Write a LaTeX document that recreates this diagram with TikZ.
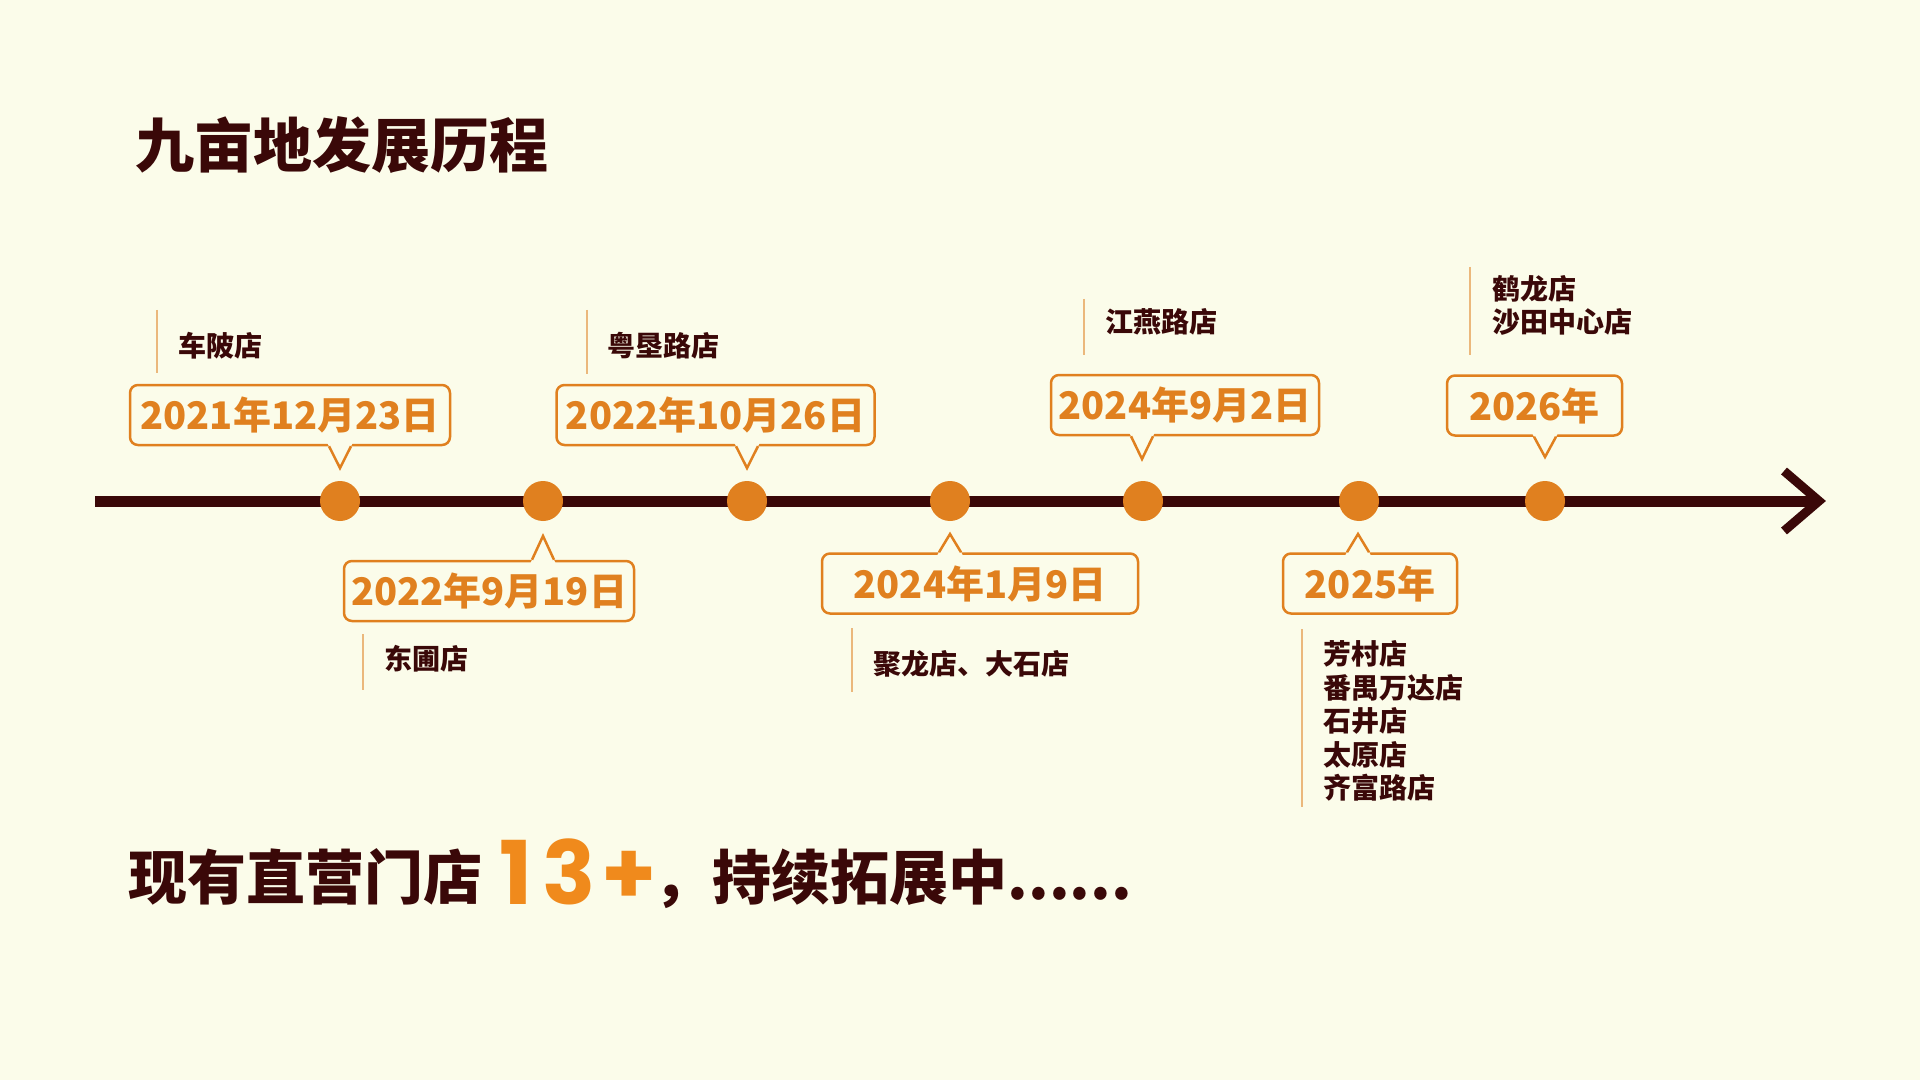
\documentclass[tikz,border=0pt]{standalone}
\usepackage{fontspec}
\newfontfamily\heavy{Noto Sans CJK SC Black}
\newfontfamily\cjk{Noto Sans CJK SC}
\newfontfamily\pop{Poppins}
\usetikzlibrary{calc}
\definecolor{bgc}{HTML}{FBFCEA}
\definecolor{darkc}{HTML}{3A0808}
\definecolor{orc}{HTML}{E0801F}
\definecolor{or13}{HTML}{F08A1C}
\definecolor{tanc}{HTML}{EBB87C}
\newcommand\calloutptr[2]{%
  \coordinate (bL) at ($(#1 |- #2)+(-11,0)$);
  \coordinate (bR) at ($(#1 |- #2)+(11,0)$);
  \fill[bgc] ($(#1)!1.25!(bL)$) -- (#1) -- ($(#1)!1.25!(bR)$) -- cycle;
  \draw[ptr] (bL) -- (#1) -- (bR);
}
\begin{document}
\begin{tikzpicture}[x=0.5pt,y=-0.5pt,
  datebox/.style={draw=orc, line width=1.25pt, rounded corners=4pt, fill=bgc, inner sep=0pt,
    text=orc, font=\cjk\bfseries\fontsize{19pt}{19pt}\selectfont, minimum height=30pt},
  ptr/.style={draw=orc, line width=1.25pt, line join=miter},
  dot/.style={circle, fill=orc, minimum size=20pt, inner sep=0pt},
  store/.style={anchor=west, inner sep=0pt, text=darkc, align=left,
    font=\heavy\fontsize{14pt}{16.75pt}\selectfont},
  stemline/.style={draw=tanc, line width=1pt},
  big/.style={anchor=base west, inner sep=0pt, text=darkc,
    font=\heavy\fontsize{29.5pt}{30pt}\selectfont},
]
\useasboundingbox (0,0) rectangle (1920,1080);
\fill[bgc] (0,0) rectangle (1920,1080);

% title
\node[anchor=west, inner sep=0pt, text=darkc, font=\heavy\fontsize{29.5pt}{30pt}\selectfont]
  (title) at (135,145) {九亩地发展历程};

% timeline
\coordinate (ls) at (95,501);
\coordinate (tip) at (1819,501);
\coordinate (aU) at (1784,471);
\coordinate (aD) at (1784,531);
\draw[darkc, line width=5.5pt] (ls) -- (tip);
\draw[darkc, line width=4.5pt, line join=miter] (aU) -- (tip) -- (aD);

% dots
\node[dot] (p1) at (340,501) {};
\node[dot] (p2) at (543,501) {};
\node[dot] (p3) at (747,501) {};
\node[dot] (p4) at (950,501) {};
\node[dot] (p5) at (1143,501) {};
\node[dot] (p6) at (1359,501) {};
\node[dot] (p7) at (1545,501) {};

% date boxes
\node[datebox, minimum width=160pt] (d1) at (290,415) {2021年12月23日};
\node[datebox, minimum width=159pt] (d2) at (715.5,415) {2022年10月26日};
\node[datebox, minimum width=134pt] (d3) at (1185,405) {2024年9月2日};
\node[datebox, minimum width=87.5pt] (d4) at (1534.5,405.5) {2026年};
\node[datebox, minimum width=145pt] (d5) at (489,591) {2022年9月19日};
\node[datebox, minimum width=158pt] (d6) at (980,583.5) {2024年1月9日};
\node[datebox, minimum width=87pt] (d7) at (1370,583.5) {2025年};

% pointer tips
\coordinate (t1) at ($(p1)+(0,-33)$);
\coordinate (t2) at ($(p3)+(0,-33)$);
\coordinate (t3) at ($(p5)+(-1,-42)$);
\coordinate (t4) at ($(p7)+(0,-44)$);
\coordinate (t5) at ($(p2)+(0,35)$);
\coordinate (t6) at ($(p4)+(0,33)$);
\coordinate (t7) at ($(p6)+(-1,33)$);
\calloutptr{t1}{d1.south}
\calloutptr{t2}{d2.south}
\calloutptr{t3}{d3.south}
\calloutptr{t4}{d4.south}
\calloutptr{t5}{d5.north}
\calloutptr{t6}{d6.north}
\calloutptr{t7}{d7.north}

% store labels
\draw[stemline] (157,310) -- (157,373);
\node[store] (s1) at (178,346) {车陂店};
\draw[stemline] (587,310) -- (587,374);
\node[store] (s2) at (607,346) {粤垦路店};
\draw[stemline] (1084,299) -- (1084,355);
\node[store] (s3) at (1105,322) {江燕路店};
\draw[stemline] (1470,267) -- (1470,355);
\node[store] (s4) at (1492,305.5) {鹤龙店\\沙田中心店};
\draw[stemline] (363,634) -- (363,690);
\node[store] (s5) at (384,659) {东圃店};
\draw[stemline] (852,628) -- (852,692);
\node[store] (s6) at (873,664) {聚龙店、大石店};
\draw[stemline] (1302,629) -- (1302,807);
\node[store] (s7) at (1323,721) {芳村店\\番禺万达店\\石井店\\太原店\\齐富路店};

% bottom line
\node[big] (b1) at (128,899) {现有直营门店};
\node[anchor=base west, inner sep=0pt, text=or13, font=\pop\bfseries\fontsize{44pt}{44pt}\selectfont]
  (b2) at ($(b1.base east)+(16,5)$) {1\hspace{5pt}3\hspace{3pt}+};
\node[big] (b3) at ($(b2.base east)+(-4,-5)$) {，持续拓展中......};
\end{tikzpicture}
\end{document}
